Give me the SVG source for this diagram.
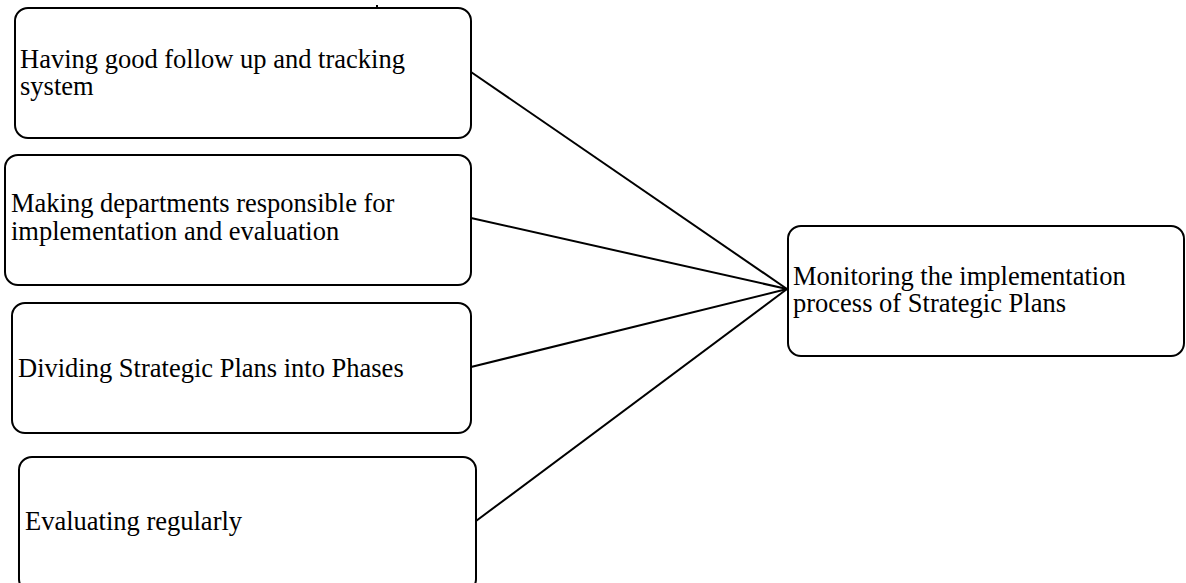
<svg xmlns="http://www.w3.org/2000/svg" width="1186" height="583" viewBox="0 0 1186 583">
  <style>
    .box { fill: #ffffff; stroke: #000000; stroke-width: 2; }
    .label { font-family: "Liberation Serif", "Times New Roman", serif; font-size: 26.5px; fill: #000000; }
    .link { stroke: #000000; stroke-width: 2; fill: none; }
  </style>
  <rect width="1186" height="583" fill="#ffffff"/>

  <!-- connectors from each factor to the central goal -->
  <g id="connectors">
    <line class="link" x1="471" y1="72" x2="787" y2="289"/>
    <line class="link" x1="471" y1="218" x2="787" y2="289"/>
    <line class="link" x1="471" y1="367" x2="787" y2="289"/>
    <line class="link" x1="476" y1="521" x2="787" y2="289"/>
    <line class="link" x1="377" y1="5" x2="377" y2="8"/>
  </g>

  <g id="node-tracking">
    <rect class="box" x="15" y="8" width="456" height="130" rx="13"/>
    <text class="label" x="20" y="68">Having good follow up and tracking</text>
    <text class="label" x="20" y="95">system</text>
  </g>

  <g id="node-departments">
    <rect class="box" x="5" y="155" width="466" height="130" rx="13"/>
    <text class="label" x="11" y="212">Making departments responsible for</text>
    <text class="label" x="11" y="240">implementation and evaluation</text>
  </g>

  <g id="node-phases">
    <rect class="box" x="12" y="303" width="459" height="130" rx="13"/>
    <text class="label" x="18" y="377">Dividing Strategic Plans into Phases</text>
  </g>

  <g id="node-evaluating">
    <rect class="box" x="19" y="457" width="457" height="135" rx="13"/>
    <text class="label" x="25" y="530">Evaluating regularly</text>
  </g>

  <g id="node-monitoring">
    <rect class="box" x="788" y="226" width="396" height="130" rx="13"/>
    <text class="label" x="793" y="285">Monitoring the implementation</text>
    <text class="label" x="793" y="312">process of Strategic Plans</text>
  </g>
</svg>
